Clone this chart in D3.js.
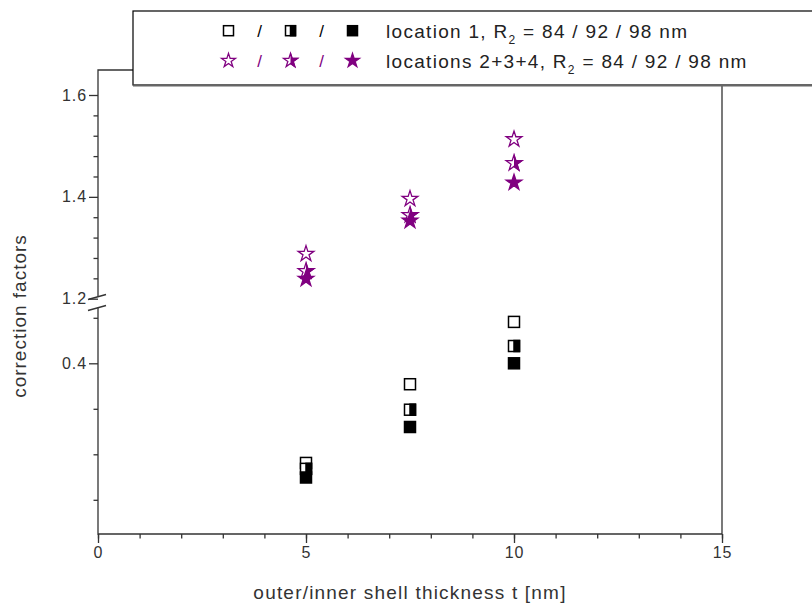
<!DOCTYPE html>
<html>
<head>
<meta charset="utf-8">
<script src="https://cdn.jsdelivr.net/npm/d3@7"></script>
<style>
  body { margin: 0; background: #fff; }
  svg { display: block; font-family: Arial, "Liberation Sans", sans-serif; }
  .axis text { font-size: 16px; fill: #333; letter-spacing: 0.9px; }
  .axis line { stroke: #333; stroke-width: 1.3; }
  .axis path { display: none; }
</style>
</head>
<body>
<svg width="812" height="603"></svg>
<script>
// data
var thickness = [5, 7.5, 10];
var loc1R84 = [0.181, 0.354, 0.491];
var loc1R92 = [0.168, 0.298, 0.438];
var loc1R98 = [0.149, 0.260, 0.400];
var loc234R84 = [1.288, 1.396, 1.513];
var loc234R92 = [1.254, 1.364, 1.466];
var loc234R98 = [1.239, 1.353, 1.428];

var xTicks = [0, 5, 10, 15];
var yUpperTicks = [1.2, 1.4, 1.6];
var yLowerTicks = [0.4];

var svg = d3.select("svg"),
    margin = {top: 70, right: 90, bottom: 69, left: 98},
    width = +svg.attr("width") - margin.left - margin.right,
    height = +svg.attr("height") - margin.top - margin.bottom;

var purple = "#800080", ink = "#333";

var x = d3.scaleLinear().domain([0, 15]).range([0, width]);
// broken y axis: two linear pieces
var yUp = d3.scaleLinear().domain([1.2, 1.6]).range([228.7, 25]);
var yLo = d3.scaleLinear().domain([0.4, 0.5]).range([293.3, 247.8]);

var g = svg.append("g")
    .attr("transform", "translate(" + margin.left + "," + margin.top + ")");

// x axis, major + minor
g.append("g").attr("class", "axis")
    .attr("transform", "translate(0," + height + ")")
    .call(d3.axisBottom(x).tickValues(d3.range(0, 16)).tickSize(4.5).tickFormat(""));
g.append("g").attr("class", "axis")
    .attr("transform", "translate(0," + height + ")")
    .call(d3.axisBottom(x).tickValues(xTicks).tickSize(9).tickPadding(4).tickFormat(d3.format("d")));

// y axis upper piece
g.append("g").attr("class", "axis")
    .call(d3.axisLeft(yUp).tickValues([1.24, 1.28, 1.32, 1.36, 1.44, 1.48, 1.52, 1.56]).tickSize(4.5).tickFormat(""));
g.append("g").attr("class", "axis")
    .call(d3.axisLeft(yUp).tickValues(yUpperTicks).tickSize(9).tickPadding(2).tickFormat(d3.format(".1f")));

// y axis lower piece
g.append("g").attr("class", "axis")
    .call(d3.axisLeft(yLo).tickValues([0.1, 0.2, 0.3, 0.5]).tickSize(4.5).tickFormat(""));
g.append("g").attr("class", "axis")
    .call(d3.axisLeft(yLo).tickValues(yLowerTicks).tickSize(9).tickPadding(2).tickFormat(d3.format(".1f")));

// frame with a gap at the break
var frame = g.append("g").attr("stroke", ink).attr("stroke-width", 1.3).attr("fill", "none");
frame.append("path").attr("d", "M0,226.5V0H" + width + "V" + height + "H0V237.5");
frame.append("line").attr("x1", -10).attr("y1", 229.5).attr("x2", 8).attr("y2", 224.5);
frame.append("line").attr("x1", -10).attr("y1", 240.5).attr("x2", 8).attr("y2", 235.5);

// axis titles
svg.append("text")
    .attr("transform", "translate(26," + 316 + ") rotate(-90)")
    .attr("text-anchor", "middle")
    .style("font-size", "19px").style("letter-spacing", "1px").attr("fill", ink)
    .text("correction factors");

svg.append("text")
    .attr("x", margin.left + x(7.5)).attr("y", 599)
    .attr("text-anchor", "middle")
    .style("font-size", "19px").style("letter-spacing", "1.2px").attr("fill", ink)
    .text("outer/inner shell thickness t [nm]");

// markers
var defs = svg.append("defs");
defs.append("clipPath").attr("id", "right-half")
  .append("rect").attr("x", 0).attr("y", -20).attr("width", 20).attr("height", 40);

function square(sel, kind, s) {
  sel.append("rect")
      .attr("x", -s / 2).attr("y", -s / 2).attr("width", s).attr("height", s)
      .attr("fill", kind == "full" ? "#000" : "#fff")
      .attr("stroke", "#000").attr("stroke-width", 1.5);
  if (kind == "half")
    sel.append("rect")
        .attr("x", 0).attr("y", -s / 2).attr("width", s / 2).attr("height", s)
        .attr("fill", "#000").attr("stroke", "#000").attr("stroke-width", 1.5);
}

function star(sel, kind, size) {
  var d = d3.symbol(d3.symbolStar, size)();
  sel.append("path").attr("d", d)
      .attr("fill", kind == "full" ? purple : "#fff")
      .attr("stroke", purple).attr("stroke-width", 1.3).attr("stroke-linejoin", "miter");
  if (kind == "half")
    sel.append("path").attr("d", d).attr("clip-path", "url(#right-half)")
        .attr("fill", purple).attr("stroke", purple).attr("stroke-width", 1.3);
}

var squareSeries = [[loc1R84, "open"], [loc1R92, "half"], [loc1R98, "full"]];
var starSeries = [[loc234R84, "open"], [loc234R92, "half"], [loc234R98, "full"]];

squareSeries.forEach(function(s) {
  g.selectAll(null).data(s[0]).enter().append("g")
      .attr("transform", function(d, i) { return "translate(" + x(thickness[i]) + "," + yLo(d) + ")"; })
      .each(function() { square(d3.select(this), s[1], 11); });
});

starSeries.forEach(function(s) {
  g.selectAll(null).data(s[0]).enter().append("g")
      .attr("transform", function(d, i) { return "translate(" + x(thickness[i]) + "," + yUp(d) + ")"; })
      .each(function() { star(d3.select(this), s[1], 77); });
});

// legend
var lg = svg.append("g");
lg.append("rect").attr("x", 133).attr("y", 11).attr("width", 700).attr("height", 74)
    .attr("fill", "#fff").attr("stroke", "#000").attr("stroke-width", 1.2);
lg.append("line").attr("x1", 133).attr("x2", 812).attr("y1", 85.5).attr("y2", 85.5)
    .attr("stroke", "#666").attr("stroke-width", 2);

var legendRows = [
  {y: 30.7, color: "#000", draw: square, size: 10, label: "location 1, R"},
  {y: 60.7, color: purple, draw: star, size: 60, label: "locations 2+3+4, R"}
];
var legendKinds = ["open", "half", "full"];

legendRows.forEach(function(r) {
  legendKinds.forEach(function(k, i) {
    lg.append("g").attr("transform", "translate(" + (228.5 + i * 62) + "," + r.y + ")")
        .each(function() { r.draw(d3.select(this), k, r.size); });
    if (i < 2)
      lg.append("text").attr("x", 259.5 + i * 62).attr("y", r.y + 6)
          .attr("text-anchor", "middle").attr("fill", r.color)
          .style("font-size", "17px").text("/");
  });
  var t = lg.append("text").attr("x", 386).attr("y", r.y + 7)
      .attr("fill", "#222").style("font-size", "19px").style("letter-spacing", "1.3px");
  t.append("tspan").text(r.label);
  t.append("tspan").attr("dy", 6).style("font-size", "12px").text("2");
  t.append("tspan").attr("dy", -6).text(" = 84 / 92 / 98 nm");
});
</script>
</body>
</html>
